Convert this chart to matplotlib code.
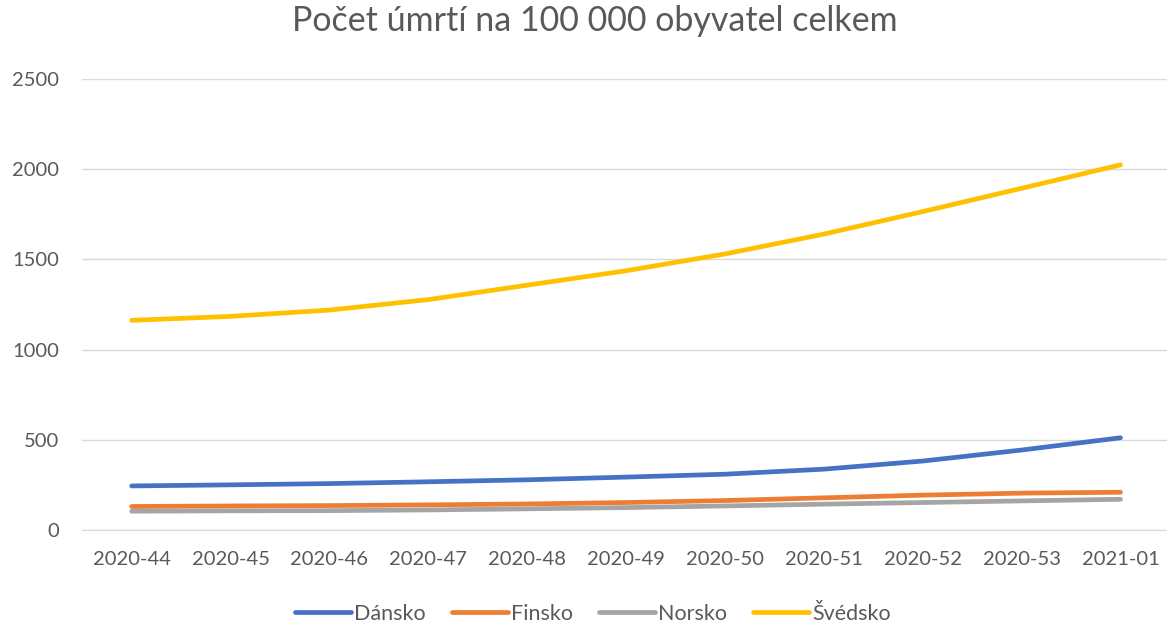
import matplotlib
matplotlib.use("Agg")
import matplotlib.pyplot as plt

plt.rcParams['font.family'] = ['Lato', 'DejaVu Sans']

weeks = ["2020-44", "2020-45", "2020-46", "2020-47", "2020-48", "2020-49",
         "2020-50", "2020-51", "2020-52", "2020-53", "2021-01"]
dansko = [244, 250, 257, 267, 278, 293, 309, 337, 382, 443, 511]
finsko = [130, 133, 135, 139, 144, 152, 163, 178, 193, 204, 209]
norsko = [104, 106, 107, 111, 117, 124, 133, 143, 152, 161, 170]
svedsko = [1162, 1184, 1219, 1277, 1357, 1437, 1530, 1640, 1765, 1894, 2024]

series = [("Dánsko", dansko, "#4472C4"),
          ("Finsko", finsko, "#ED7D31"),
          ("Norsko", norsko, "#A5A5A5"),
          ("Švédsko", svedsko, "#FFC000")]

fig = plt.figure(figsize=(11.67, 6.22), dpi=100)
ax = fig.add_axes([0.0705, 0.148, 0.932, 0.725])

x = list(range(len(weeks)))
for name, vals, col in series:
    ax.plot(x, vals, color=col, lw=3.4, label=name, solid_capstyle='round')

ax.set_xlim(-0.5, len(weeks) - 0.5)
ax.set_ylim(0, 2500)
ax.set_yticks([0, 500, 1000, 1500, 2000, 2500])
ax.set_xticks(x)
ax.set_xticklabels(weeks)
ax.grid(axis='y', color='#D9D9D9', lw=1)
ax.set_axisbelow(True)
for s in ['top', 'right', 'left']:
    ax.spines[s].set_visible(False)
ax.spines['bottom'].set_color('#D9D9D9')
ax.tick_params(axis='both', length=0, labelsize=14.5, colors='#595959')
ax.tick_params(axis='y', pad=16.5)
ax.tick_params(axis='x', pad=15)

fig.suptitle("Počet úmrtí na 100 000 obyvatel celkem", fontsize=24.5,
             color='#595959', x=0.51, y=0.992)

fig.legend(loc='center', bbox_to_anchor=(0.508, 0.013), ncol=4, frameon=False,
           fontsize=15.5, labelcolor='#595959', handlelength=2.6,
           handletextpad=0.15, columnspacing=1.2)

fig.savefig("out.png", dpi=100)
